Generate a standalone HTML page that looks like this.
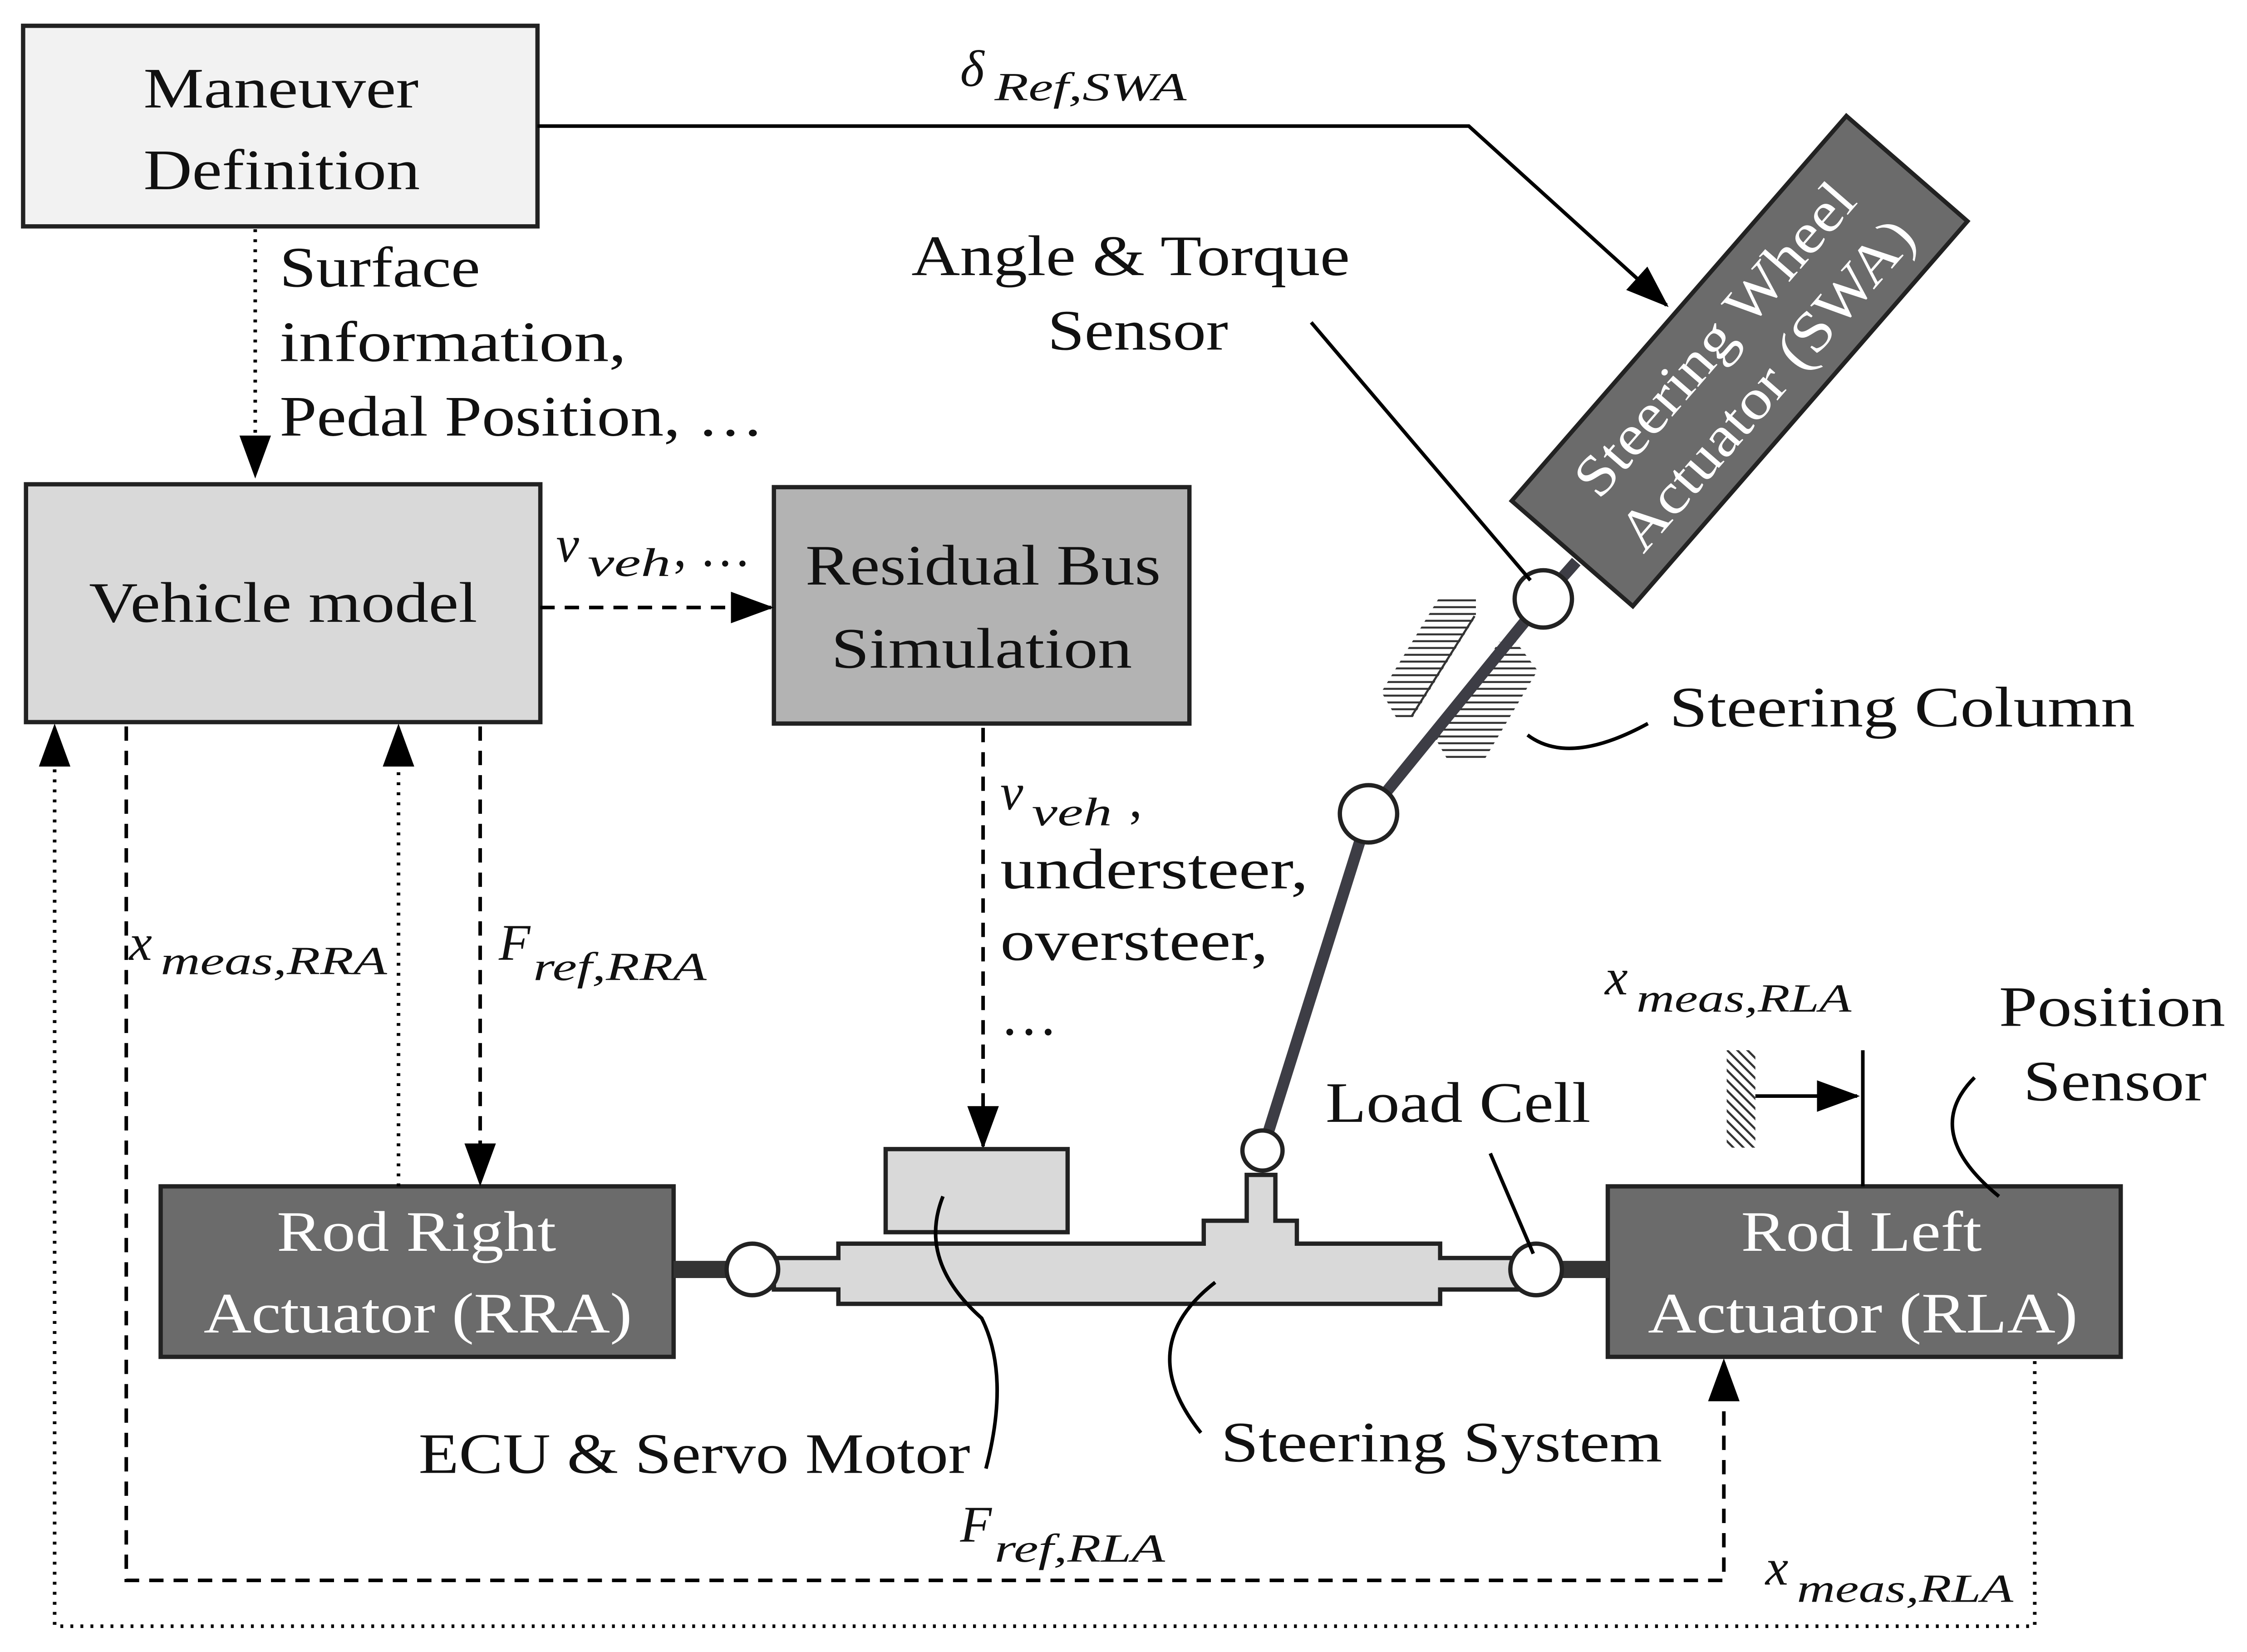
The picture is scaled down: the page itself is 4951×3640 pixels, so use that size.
<!DOCTYPE html>
<html><head><meta charset="utf-8"><style>
html,body{margin:0;padding:0;background:#fff;}
svg{display:block;}
text{font-family:"Liberation Serif",serif;fill:#111;}
.it{font-style:italic;}
.w{fill:#fff;}
</style></head><body>
<svg width="4951" height="3640" viewBox="0 0 1568 1153" xmlns="http://www.w3.org/2000/svg">
<defs>
<marker id="a2" markerWidth="30" markerHeight="30" refX="28" refY="15" orient="auto" markerUnits="userSpaceOnUse" viewBox="0 0 30 30">
<path d="M0,4 L30,15 L0,26 z" fill="#000"/></marker>
<pattern id="hat" width="10" height="4.75" patternUnits="userSpaceOnUse">
<line x1="0" y1="1" x2="10" y2="1" stroke="#333" stroke-width="1.4"/></pattern>
<pattern id="hat2" width="5" height="5" patternUnits="userSpaceOnUse" patternTransform="rotate(45)">
<line x1="0" y1="1" x2="5" y2="1" stroke="#333" stroke-width="1.5"/></pattern>
<clipPath id="c1"><polygon points="1005,416 1030,416 1030,430 985,502 975,502 964,483"/></clipPath>
<clipPath id="c2"><polygon points="1046,448 1058,448 1073,468 1036,530 1010,530 1002,516"/></clipPath>
</defs>

<rect x="16" y="18" width="359" height="140" fill="#f2f2f2" stroke="#222" stroke-width="3"/>
<text x="100" y="75" font-size="40" textLength="192" lengthAdjust="spacingAndGlyphs">Maneuver</text>
<text x="100" y="132" font-size="40" textLength="193" lengthAdjust="spacingAndGlyphs">Definition</text>

<rect x="18" y="338" width="359" height="166" fill="#d9d9d9" stroke="#222" stroke-width="3"/>
<text x="62" y="434" font-size="40" textLength="271" lengthAdjust="spacingAndGlyphs">Vehicle model</text>

<rect x="540" y="340" width="290" height="165" fill="#b3b3b3" stroke="#222" stroke-width="3"/>
<text x="562" y="408" font-size="40" textLength="248" lengthAdjust="spacingAndGlyphs">Residual Bus</text>
<text x="580" y="466" font-size="40" textLength="210" lengthAdjust="spacingAndGlyphs">Simulation</text>

<rect x="112" y="828" width="358" height="119" fill="#6b6b6b" stroke="#222" stroke-width="3"/>
<text x="193" y="873" font-size="40" class="w" textLength="195" lengthAdjust="spacingAndGlyphs">Rod Right</text>
<text x="142" y="930" font-size="40" class="w" textLength="299" lengthAdjust="spacingAndGlyphs">Actuator (RRA)</text>

<rect x="1122" y="828" width="358" height="119" fill="#6b6b6b" stroke="#222" stroke-width="3"/>
<text x="1215" y="873" font-size="40" class="w" textLength="168" lengthAdjust="spacingAndGlyphs">Rod Left</text>
<text x="1150" y="930" font-size="40" class="w" textLength="300" lengthAdjust="spacingAndGlyphs">Actuator (RLA)</text>

<g transform="translate(1214,252) rotate(-49)">
<rect x="-178" y="-56" width="356" height="112" fill="#6b6b6b" stroke="#222" stroke-width="3"/>
<text x="-138" y="-10" font-size="40" class="w" textLength="276" lengthAdjust="spacingAndGlyphs">Steering Wheel</text>
<text x="-146" y="38" font-size="40" class="w" textLength="292" lengthAdjust="spacingAndGlyphs">Actuator (SWA)</text>
</g>

<polyline points="375,88 1025,88 1163,213" fill="none" stroke="#000" stroke-width="2.5" marker-end="url(#a2)"/>
<text x="670" y="60" font-size="36" class="it">δ</text>
<text x="694" y="70" font-size="28" class="it" textLength="134" lengthAdjust="spacingAndGlyphs">Ref,SWA</text>

<line x1="178" y1="160" x2="178" y2="332" stroke="#000" stroke-width="2.5" stroke-dasharray="2,5" marker-end="url(#a2)"/>
<text x="195" y="200" font-size="40" textLength="140" lengthAdjust="spacingAndGlyphs">Surface</text>
<text x="195" y="252" font-size="40" textLength="242" lengthAdjust="spacingAndGlyphs">information,</text>
<text x="195" y="304" font-size="40" textLength="338" lengthAdjust="spacingAndGlyphs">Pedal Position, …</text>

<line x1="377" y1="424" x2="538" y2="424" stroke="#000" stroke-width="2.5" stroke-dasharray="10,7" marker-end="url(#a2)"/>
<text x="388" y="392" font-size="36" class="it">v</text>
<text x="410" y="402" font-size="28" class="it" textLength="58" lengthAdjust="spacingAndGlyphs">veh</text>
<text x="470" y="395" font-size="36">, …</text>

<line x1="686" y1="508" x2="686" y2="800" stroke="#000" stroke-width="2.5" stroke-dasharray="10,7" marker-end="url(#a2)"/>
<text x="698" y="565" font-size="36" class="it">v</text>
<text x="720" y="576" font-size="28" class="it" textLength="56" lengthAdjust="spacingAndGlyphs">veh</text>
<text x="788" y="570" font-size="36">,</text>
<text x="698" y="620" font-size="40" textLength="215" lengthAdjust="spacingAndGlyphs">understeer,</text>
<text x="698" y="670" font-size="40" textLength="187" lengthAdjust="spacingAndGlyphs">oversteer,</text>
<text x="698" y="722" font-size="40">…</text>

<line x1="278" y1="828" x2="278" y2="507" stroke="#000" stroke-width="2.5" stroke-dasharray="2,5" marker-end="url(#a2)"/>
<text x="90" y="670" font-size="36" class="it">x</text>
<text x="112" y="680" font-size="28" class="it" textLength="158" lengthAdjust="spacingAndGlyphs">meas,RRA</text>

<line x1="335" y1="507" x2="335" y2="826" stroke="#000" stroke-width="2.5" stroke-dasharray="10,7" marker-end="url(#a2)"/>
<text x="348" y="670" font-size="36" class="it">F</text>
<text x="372" y="684" font-size="28" class="it" textLength="121" lengthAdjust="spacingAndGlyphs">ref,RRA</text>

<polyline points="88,507 88,1103 1203,1103 1203,950" fill="none" stroke="#000" stroke-width="2.5" stroke-dasharray="10,7" marker-end="url(#a2)"/>
<text x="670" y="1076" font-size="36" class="it">F</text>
<text x="694" y="1090" font-size="28" class="it" textLength="119" lengthAdjust="spacingAndGlyphs">ref,RLA</text>

<polyline points="1420,950 1420,1135 38,1135 38,507" fill="none" stroke="#000" stroke-width="2.5" stroke-dasharray="2,5" marker-end="url(#a2)"/>
<text x="1232" y="1106" font-size="36" class="it">x</text>
<text x="1254" y="1118" font-size="28" class="it" textLength="151" lengthAdjust="spacingAndGlyphs">meas,RLA</text>

<rect x="470" y="880" width="45" height="12" fill="#333"/>
<rect x="1078" y="880" width="45" height="12" fill="#333"/>
<path d="M540,878 L585,878 L585,868 L840,868 L840,852 L870,852 L870,820 L890,820 L890,852 L905,852 L905,868 L1005,868 L1005,878 L1060,878 L1060,900 L1005,900 L1005,910 L585,910 L585,900 L540,900 Z" fill="#d9d9d9" stroke="#222" stroke-width="3"/>
<rect x="618" y="802" width="127" height="58" fill="#d9d9d9" stroke="#222" stroke-width="3"/>

<rect x="960" y="414" width="120" height="120" fill="url(#hat)" clip-path="url(#c1)"/>
<rect x="995" y="446" width="80" height="86" fill="url(#hat)" clip-path="url(#c2)"/>
<line x1="1029" y1="430" x2="985" y2="500" stroke="#333" stroke-width="1.5"/>
<line x1="1049" y1="449" x2="1002" y2="516" stroke="#333" stroke-width="1.5"/>

<polyline points="881,803 955,568 1077,418 1100,392" fill="none" stroke="#3d3d45" stroke-width="8"/>
<circle cx="881" cy="803" r="14" fill="#fff" stroke="#222" stroke-width="3"/>
<circle cx="955" cy="568" r="20" fill="#fff" stroke="#222" stroke-width="3"/>
<circle cx="1077" cy="418" r="20" fill="#fff" stroke="#222" stroke-width="3"/>
<circle cx="525" cy="886" r="18" fill="#fff" stroke="#222" stroke-width="3"/>
<circle cx="1072" cy="886" r="18" fill="#fff" stroke="#222" stroke-width="3"/>

<text x="636" y="192" font-size="40" textLength="306" lengthAdjust="spacingAndGlyphs">Angle &amp; Torque</text>
<text x="731" y="244" font-size="40" textLength="126" lengthAdjust="spacingAndGlyphs">Sensor</text>
<line x1="915" y1="225" x2="1068" y2="405" stroke="#000" stroke-width="2.5"/>

<text x="1165" y="507" font-size="40" textLength="325" lengthAdjust="spacingAndGlyphs">Steering Column</text>
<path d="M1066,513 Q1095,535 1150,505" fill="none" stroke="#000" stroke-width="2.5"/>

<text x="925" y="783" font-size="40" textLength="185" lengthAdjust="spacingAndGlyphs">Load Cell</text>
<line x1="1040" y1="805" x2="1070" y2="875" stroke="#000" stroke-width="2.5"/>

<text x="1395" y="716" font-size="40" textLength="158" lengthAdjust="spacingAndGlyphs">Position</text>
<text x="1412" y="768" font-size="40" textLength="128" lengthAdjust="spacingAndGlyphs">Sensor</text>
<path d="M1378,752 Q1340,790 1395,835" fill="none" stroke="#000" stroke-width="2.5"/>

<text x="1120" y="694" font-size="36" class="it">x</text>
<text x="1142" y="706" font-size="28" class="it" textLength="150" lengthAdjust="spacingAndGlyphs">meas,RLA</text>
<rect x="1205" y="733" width="20" height="68" fill="url(#hat2)"/>
<line x1="1225" y1="765" x2="1296" y2="765" stroke="#000" stroke-width="2.5" marker-end="url(#a2)"/>
<line x1="1300" y1="733" x2="1300" y2="828" stroke="#000" stroke-width="2.5"/>

<text x="292" y="1028" font-size="40" textLength="385" lengthAdjust="spacingAndGlyphs">ECU &amp; Servo Motor</text>
<path d="M658,835 Q640,880 685,920 Q705,960 688,1025" fill="none" stroke="#000" stroke-width="2.5"/>

<text x="852" y="1020" font-size="40" textLength="308" lengthAdjust="spacingAndGlyphs">Steering System</text>
<path d="M848,895 Q790,940 838,1000" fill="none" stroke="#000" stroke-width="2.5"/>
</svg>
</body></html>
